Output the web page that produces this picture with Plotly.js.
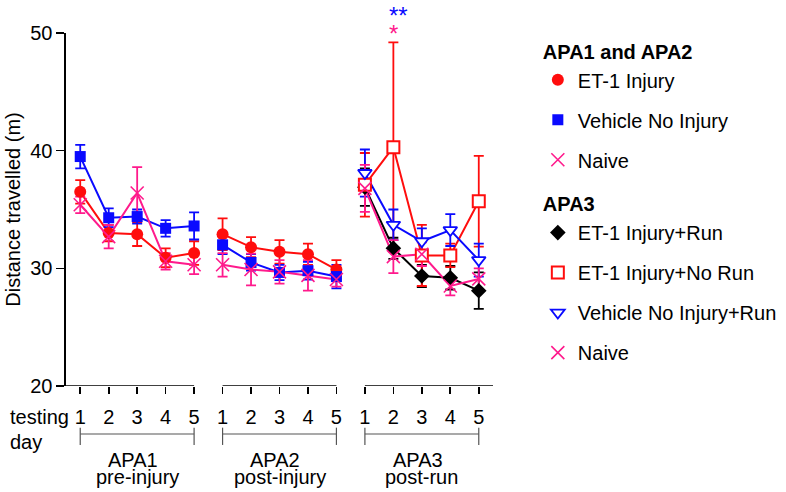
<!DOCTYPE html>
<html>
<head>
<meta charset="utf-8">
<script src="https://cdn.plot.ly/plotly-3.0.1.min.js"></script>
<style>
  html, body { margin: 0; padding: 0; background: #fff; }
  #chart { width: 786px; height: 492px; }
</style>
</head>
<body>
<div id="chart"></div>
<script>
// testing days within each APA session
const days = [1, 2, 3, 4, 5];
const dayLabels = ['1', '2', '3', '4', '5'];
const sessions = ['APA1', 'APA2', 'APA3'];
const sessionNotes = ['pre-injury', 'post-injury', 'post-run'];

// APA1 and APA2 groups (mean, sem)
const etInjuryApa1 = [36.5, 33.0, 32.9, 30.9, 31.3];
const etInjuryApa1Err = [1.0, 0.7, 1.0, 0.8, 1.0];
const etInjuryApa2 = [32.9, 31.8, 31.4, 31.2, 29.9];
const etInjuryApa2Err = [1.35, 0.85, 1.0, 0.9, 0.8];

const vehicleApa1 = [39.5, 34.3, 34.4, 33.4, 33.6];
const vehicleApa1Err = [1.0, 0.8, 0.6, 0.7, 1.15];
const vehicleApa2 = [32.0, 30.5, 29.65, 29.8, 29.3];
const vehicleApa2Err = [0.8, 0.7, 0.65, 0.75, 1.0];

const naiveApa1 = [35.4, 32.7, 36.4, 30.6, 30.3];
const naiveApa1Err = [0.7, 1.0, 2.2, 0.7, 0.8];
const naiveApa2 = [30.3, 29.9, 29.7, 29.4, 29.05];
const naiveApa2Err = [1.0, 1.35, 1.0, 1.3, 0.6];

// APA3 groups
const etRunApa3 = [36.9, 31.7, 29.35, 29.2, 28.1];
const etRunApa3Err = [1.6, 0.9, 0.95, 1.0, 1.55];
const etNoRunApa3 = [37.1, 40.3, 31.1, 31.1, 35.7];
const etNoRunApa3Err = [2.7, 8.9, 2.6, 1.0, 3.85];
const vehicleRunApa3 = [38.1, 33.7, 32.3, 33.25, 30.7];
const vehicleRunApa3Err = [2.0, 1.3, 1.1, 1.35, 1.4];
const naiveApa3 = [36.8, 31.0, 31.2, 28.5, 29.1];
const naiveApa3Err = [2.0, 1.4, 1.0, 0.8, 0.9];

const RED = '#ff0d0d';
const BLUE = '#0a0aff';
const PINK = '#ff1a8c';
const BLACK = '#000000';
const FONT = 'Liberation Sans, Arial, sans-serif';

// each session occupies 5 slots on one continuous axis
const pos = (s, d) => s * 5 + d;
const xFor = s => days.map(d => pos(s, d));

// join two sessions with a null so the line breaks between them
const joined = (a, b) => [...a, null, ...b];

const series = [
  { name: 'ET-1 Injury', group: 'APA1 and APA2', legend: 'legend', color: RED,
    x: joined(xFor(0), xFor(1)), y: joined(etInjuryApa1, etInjuryApa2), e: joined(etInjuryApa1Err, etInjuryApa2Err),
    marker: { symbol: 'circle', size: 12, color: RED } },
  { name: 'Vehicle No Injury', legend: 'legend', color: BLUE,
    x: joined(xFor(0), xFor(1)), y: joined(vehicleApa1, vehicleApa2), e: joined(vehicleApa1Err, vehicleApa2Err),
    marker: { symbol: 'square', size: 11, color: BLUE } },
  { name: 'Naive', legend: 'legend', color: PINK,
    x: joined(xFor(0), xFor(1)), y: joined(naiveApa1, naiveApa2), e: joined(naiveApa1Err, naiveApa2Err),
    marker: { symbol: 'x-thin', size: 13, color: PINK, line: { color: PINK, width: 1.6 } } },
  { name: 'ET-1 Injury+Run', group: 'APA3', legend: 'legend2', color: BLACK,
    x: xFor(2), y: etRunApa3, e: etRunApa3Err,
    marker: { symbol: 'diamond', size: 12, color: BLACK } },
  { name: 'ET-1 Injury+No Run', legend: 'legend2', color: RED,
    x: xFor(2), y: etNoRunApa3, e: etNoRunApa3Err,
    marker: { symbol: 'square', size: 12, color: '#ffffff', line: { color: RED, width: 2 } } },
  { name: 'Vehicle No Injury+Run', legend: 'legend2', color: BLUE,
    x: xFor(2), y: vehicleRunApa3, e: vehicleRunApa3Err,
    marker: { symbol: 'triangle-down', size: 12, color: '#ffffff', line: { color: BLUE, width: 1.8 } } },
  { name: 'Naive', legend: 'legend2', color: PINK,
    x: xFor(2), y: naiveApa3, e: naiveApa3Err,
    marker: { symbol: 'x-thin', size: 13, color: PINK, line: { color: PINK, width: 1.6 } } }
];

// lines + error bars first, then markers on top (markers carry the legend)
const lineTraces = series.map(s => ({
  x: s.x, y: s.y, type: 'scatter', mode: 'lines',
  line: { color: s.color, width: 2 },
  error_y: { type: 'data', array: s.e, visible: true, color: s.color, thickness: 1.8, width: 5 },
  connectgaps: false, showlegend: false, hoverinfo: 'skip'
}));

const markerTraces = series.map((s, i) => {
  const t = {
    x: s.x, y: s.y, type: 'scatter', mode: 'markers',
    name: s.name, marker: s.marker, legend: s.legend, legendgroup: 'g' + i
  };
  if (s.group) t.legendgrouptitle = { text: s.group, font: { size: 20, weight: 'bold', color: '#000' } };
  return t;
});

// broken x axis line and the brackets under each session
const shapes = [];
const annotations = [];
sessions.forEach((name, s) => {
  const first = pos(s, days[0]);
  const last = pos(s, days[days.length - 1]);
  shapes.push({ type: 'line', xref: 'x', yref: 'y', x0: s === 0 ? 0.5 : first, x1: s === 2 ? 15.5 : last,
    y0: 20, y1: 20, line: { color: '#000', width: 1.6 } });
  shapes.push({ type: 'line', xref: 'x', yref: 'paper', x0: first, x1: last, y0: -0.136, y1: -0.136,
    line: { color: '#555', width: 1.2 } });
  [first, last].forEach(xv => shapes.push({ type: 'line', xref: 'x', yref: 'paper', x0: xv, x1: xv,
    y0: -0.118, y1: -0.167, line: { color: '#555', width: 1.2 } }));
  annotations.push({ xref: 'x', yref: 'paper', x: (first + last) / 2 - 0.15, y: -0.209, yanchor: 'middle',
    text: name, showarrow: false, font: { size: 20, color: '#000' } });
  annotations.push({ xref: 'x', yref: 'paper', x: (first + last) / 2, y: -0.259, yanchor: 'middle',
    text: sessionNotes[s], showarrow: false, font: { size: 20, color: '#000' } });
});

annotations.push({ xref: 'paper', yref: 'paper', x: -0.136, xanchor: 'left', y: -0.089, yanchor: 'middle',
  text: 'testing', showarrow: false, font: { size: 20, color: '#000' } });
annotations.push({ xref: 'paper', yref: 'paper', x: -0.136, xanchor: 'left', y: -0.16, yanchor: 'middle',
  text: 'day', showarrow: false, font: { size: 20, color: '#000' } });

// significance marks above APA3 day 2
annotations.push({ xref: 'x', yref: 'paper', x: pos(2, 2), xshift: 5, y: 1.05, yanchor: 'middle',
  text: '**', showarrow: false, font: { size: 24, color: BLUE } });
annotations.push({ xref: 'x', yref: 'paper', x: pos(2, 2), y: 0.999, yanchor: 'middle',
  text: '*', showarrow: false, font: { size: 24, color: PINK } });

const legendBase = {
  x: 1.105, xanchor: 'left', yanchor: 'top', maxheight: 460,
  traceorder: 'grouped', tracegroupgap: 11, itemwidth: 30,
  font: { size: 20, color: '#000' }, bgcolor: 'rgba(0,0,0,0)'
};

const layout = {
  width: 786, height: 492,
  margin: { l: 66, r: 293, t: 33, b: 106, autoexpand: false },
  paper_bgcolor: '#fff', plot_bgcolor: '#fff',
  font: { family: FONT, size: 20, color: '#000' },
  xaxis: {
    range: [0.5, 15.5], showline: false, showgrid: false, zeroline: false,
    tickvals: sessions.flatMap((_, s) => xFor(s)),
    ticktext: sessions.flatMap(() => dayLabels),
    ticks: 'outside', ticklen: 7, tickwidth: 1.6, tickcolor: '#000',
    ticklabelstandoff: 6,
    tickfont: { size: 20, color: '#000' }
  },
  yaxis: {
    range: [20, 50], tickvals: [20, 30, 40, 50],
    showline: true, linewidth: 1.6, linecolor: '#000',
    ticks: 'outside', ticklen: 8, tickwidth: 1.6, tickcolor: '#000',
    showgrid: false, zeroline: false,
    tickfont: { size: 20, color: '#000' },
    title: { text: 'Distance travelled (m)', font: { size: 20, color: '#000' }, standoff: 4 }
  },
  legend: Object.assign({}, legendBase, { y: 1.005 }),
  legend2: Object.assign({}, legendBase, { y: 0.572 }),
  shapes: shapes,
  annotations: annotations,
  showlegend: true
};

Plotly.newPlot('chart', [...lineTraces, ...markerTraces], layout, { displayModeBar: false, staticPlot: true });
</script>
</body>
</html>
